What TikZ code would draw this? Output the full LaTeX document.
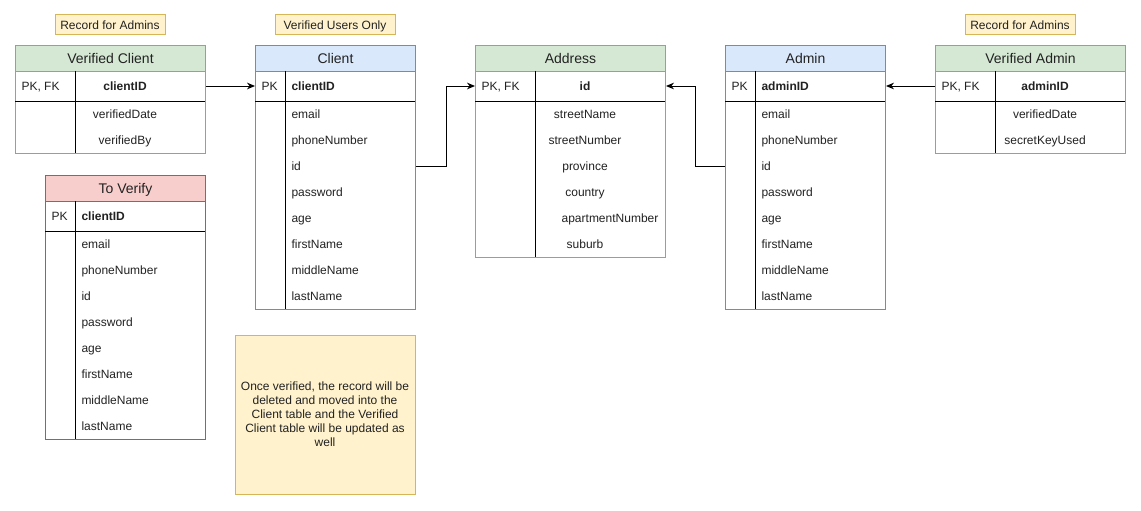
\documentclass[tikz,border=0pt]{standalone}
\usepackage{fontspec}
\setmainfont{Liberation Sans}
\usetikzlibrary{arrows.meta}

\definecolor{grnfill}{HTML}{D5E8D4}
\definecolor{grnline}{HTML}{82B366}
\definecolor{blufill}{HTML}{DAE8FC}
\definecolor{bluline}{HTML}{6C8EBF}
\definecolor{redfill}{HTML}{F8CECC}
\definecolor{redline}{HTML}{B85450}
\definecolor{notefill}{HTML}{FFF2CC}
\definecolor{noteline}{HTML}{D6B656}
\definecolor{txt}{HTML}{222222}

\tikzset{
  hdr/.style={draw=#1, inner sep=0pt, anchor=north west, minimum height=19.5pt,
    text height=8.5pt, text depth=1.4pt, text=txt, font=\fontsize{10.5}{12}\selectfont},
  tbl/.style={draw=#1, fill=white, inner sep=0pt, anchor=north west},
  fld/.style={inner sep=0pt, text height=7.6pt, text depth=1.4pt, text=txt,
    font=\fontsize{9}{10.5}\selectfont},
  fldl/.style={fld, anchor=west},
  keyfld/.style={fld, font=\fontsize{9}{10.5}\selectfont\bfseries},
  tag/.style={draw=noteline, fill=notefill, inner sep=0pt, minimum height=15pt,
    text height=7.6pt, text depth=1.4pt, text=txt, font=\fontsize{9}{10.5}\selectfont},
  link/.style={-{Stealth[length=6pt,width=5pt]}},
}

\begin{document}
\begin{tikzpicture}[x=0.75pt,y=0.75pt,yscale=-1,xscale=1,line width=0.75pt]
\useasboundingbox (0,0) rectangle (1141,510);

% tags above the tables
\node[tag, minimum width=82.5pt] (vcTag) at (110,25) {Record for Admins};
\node[tag, minimum width=90pt] (clTag) at (335,25) {Verified Users Only};
\node[tag, minimum width=82.5pt] (vaTag) at (1020,25) {Record for Admins};

% Verified Client
\node[tbl=grnline, minimum width=142.5pt, minimum height=61.5pt] (vcBody) at (15,71) {};
\node[hdr=grnline, fill=grnfill, minimum width=142.5pt] (vcHead) at (15,45) {Verified Client};
\draw (15,101) -- (205,101);
\draw (75,71) -- (75,153);
\node[fldl] (vcPk) at (21,86) {PK, FK};
\node[keyfld] (vcKid) at (125,86) {clientID};
\node[fld] (vcDate) at (125,114) {verifiedDate};
\node[fld] (vcBy) at (125,140) {verifiedBy};

% Client
\node[tbl=bluline, minimum width=120pt, minimum height=178.5pt] (clBody) at (255,71) {};
\node[hdr=bluline, fill=blufill, minimum width=120pt] (clHead) at (255,45) {Client};
\draw (255,101) -- (415,101);
\draw (285,71) -- (285,309);
\node[fldl] (clPk) at (261,86) {PK};
\node[keyfld, anchor=west] (clKid) at (291,86) {clientID};
\node[fldl] (clEmail) at (291,114) {email};
\node[fldl] (clPhone) at (291,140) {phoneNumber};
\node[fldl] (clId) at (291,166) {id};
\node[fldl] (clPass) at (291,192) {password};
\node[fldl] (clAge) at (291,218) {age};
\node[fldl] (clFirst) at (291,244) {firstName};
\node[fldl] (clMiddle) at (291,270) {middleName};
\node[fldl] (clLast) at (291,296) {lastName};

% Address
\node[tbl=grnline, minimum width=142.5pt, minimum height=139.5pt] (adBody) at (475,71) {};
\node[hdr=grnline, fill=grnfill, minimum width=142.5pt] (adHead) at (475,45) {Address};
\draw (475,101) -- (665,101);
\draw (535,71) -- (535,257);
\node[fldl] (adPk) at (481,86) {PK, FK};
\node[keyfld] (adKid) at (585,86) {id};
\node[fld] (adStName) at (585,114) {streetName};
\node[fld] (adStNum) at (585,140) {streetNumber};
\node[fld] (adProv) at (585,166) {province};
\node[fld] (adCountry) at (585,192) {country};
\node[fld] (adApt) at (610,218) {apartmentNumber};
\node[fld] (adSuburb) at (585,244) {suburb};

% Admin
\node[tbl=bluline, minimum width=120pt, minimum height=178.5pt] (amBody) at (725,71) {};
\node[hdr=bluline, fill=blufill, minimum width=120pt] (amHead) at (725,45) {Admin};
\draw (725,101) -- (885,101);
\draw (755,71) -- (755,309);
\node[fldl] (amPk) at (731,86) {PK};
\node[keyfld, anchor=west] (amKid) at (761,86) {adminID};
\node[fldl] (amEmail) at (761,114) {email};
\node[fldl] (amPhone) at (761,140) {phoneNumber};
\node[fldl] (amId) at (761,166) {id};
\node[fldl] (amPass) at (761,192) {password};
\node[fldl] (amAge) at (761,218) {age};
\node[fldl] (amFirst) at (761,244) {firstName};
\node[fldl] (amMiddle) at (761,270) {middleName};
\node[fldl] (amLast) at (761,296) {lastName};

% Verified Admin
\node[tbl=grnline, minimum width=142.5pt, minimum height=61.5pt] (vaBody) at (935,71) {};
\node[hdr=grnline, fill=grnfill, minimum width=142.5pt] (vaHead) at (935,45) {Verified Admin};
\draw (935,101) -- (1125,101);
\draw (995,71) -- (995,153);
\node[fldl] (vaPk) at (941,86) {PK, FK};
\node[keyfld] (vaKid) at (1045,86) {adminID};
\node[fld] (vaDate) at (1045,114) {verifiedDate};
\node[fld] (vaKey) at (1045,140) {secretKeyUsed};

% To Verify
\node[tbl=redline, minimum width=120pt, minimum height=178.5pt] (tvBody) at (45,201) {};
\node[hdr=redline, fill=redfill, minimum width=120pt] (tvHead) at (45,175) {To Verify};
\draw (45,231) -- (205,231);
\draw (75,201) -- (75,439);
\node[fldl] (tvPk) at (51,216) {PK};
\node[keyfld, anchor=west] (tvKid) at (81,216) {clientID};
\node[fldl] (tvEmail) at (81,244) {email};
\node[fldl] (tvPhone) at (81,270) {phoneNumber};
\node[fldl] (tvId) at (81,296) {id};
\node[fldl] (tvPass) at (81,322) {password};
\node[fldl] (tvAge) at (81,348) {age};
\node[fldl] (tvFirst) at (81,374) {firstName};
\node[fldl] (tvMiddle) at (81,400) {middleName};
\node[fldl] (tvLast) at (81,426) {lastName};

% note
\node[draw=noteline, fill=notefill, minimum width=135pt, minimum height=119.25pt,
  inner sep=0pt, align=center, text=txt, font=\fontsize{9}{10.5}\selectfont] (note) at (325,414.5)
  {Once verified, the record will be\\deleted and moved into the\\Client table and the Verified\\Client table will be updated as\\well};

% links
\draw[link] (vcBody.east |- vcKid) -- (clBody.west |- clKid);
\draw[link] (clBody.east |- clId) -- ++(30,0) |- (adBody.west |- adKid);
\draw[link] (amBody.west |- amId) -- ++(-30,0) |- (adBody.east |- adKid);
\draw[link] (vaBody.west |- vaKid) -- (amBody.east |- amKid);
\end{tikzpicture}
\end{document}
